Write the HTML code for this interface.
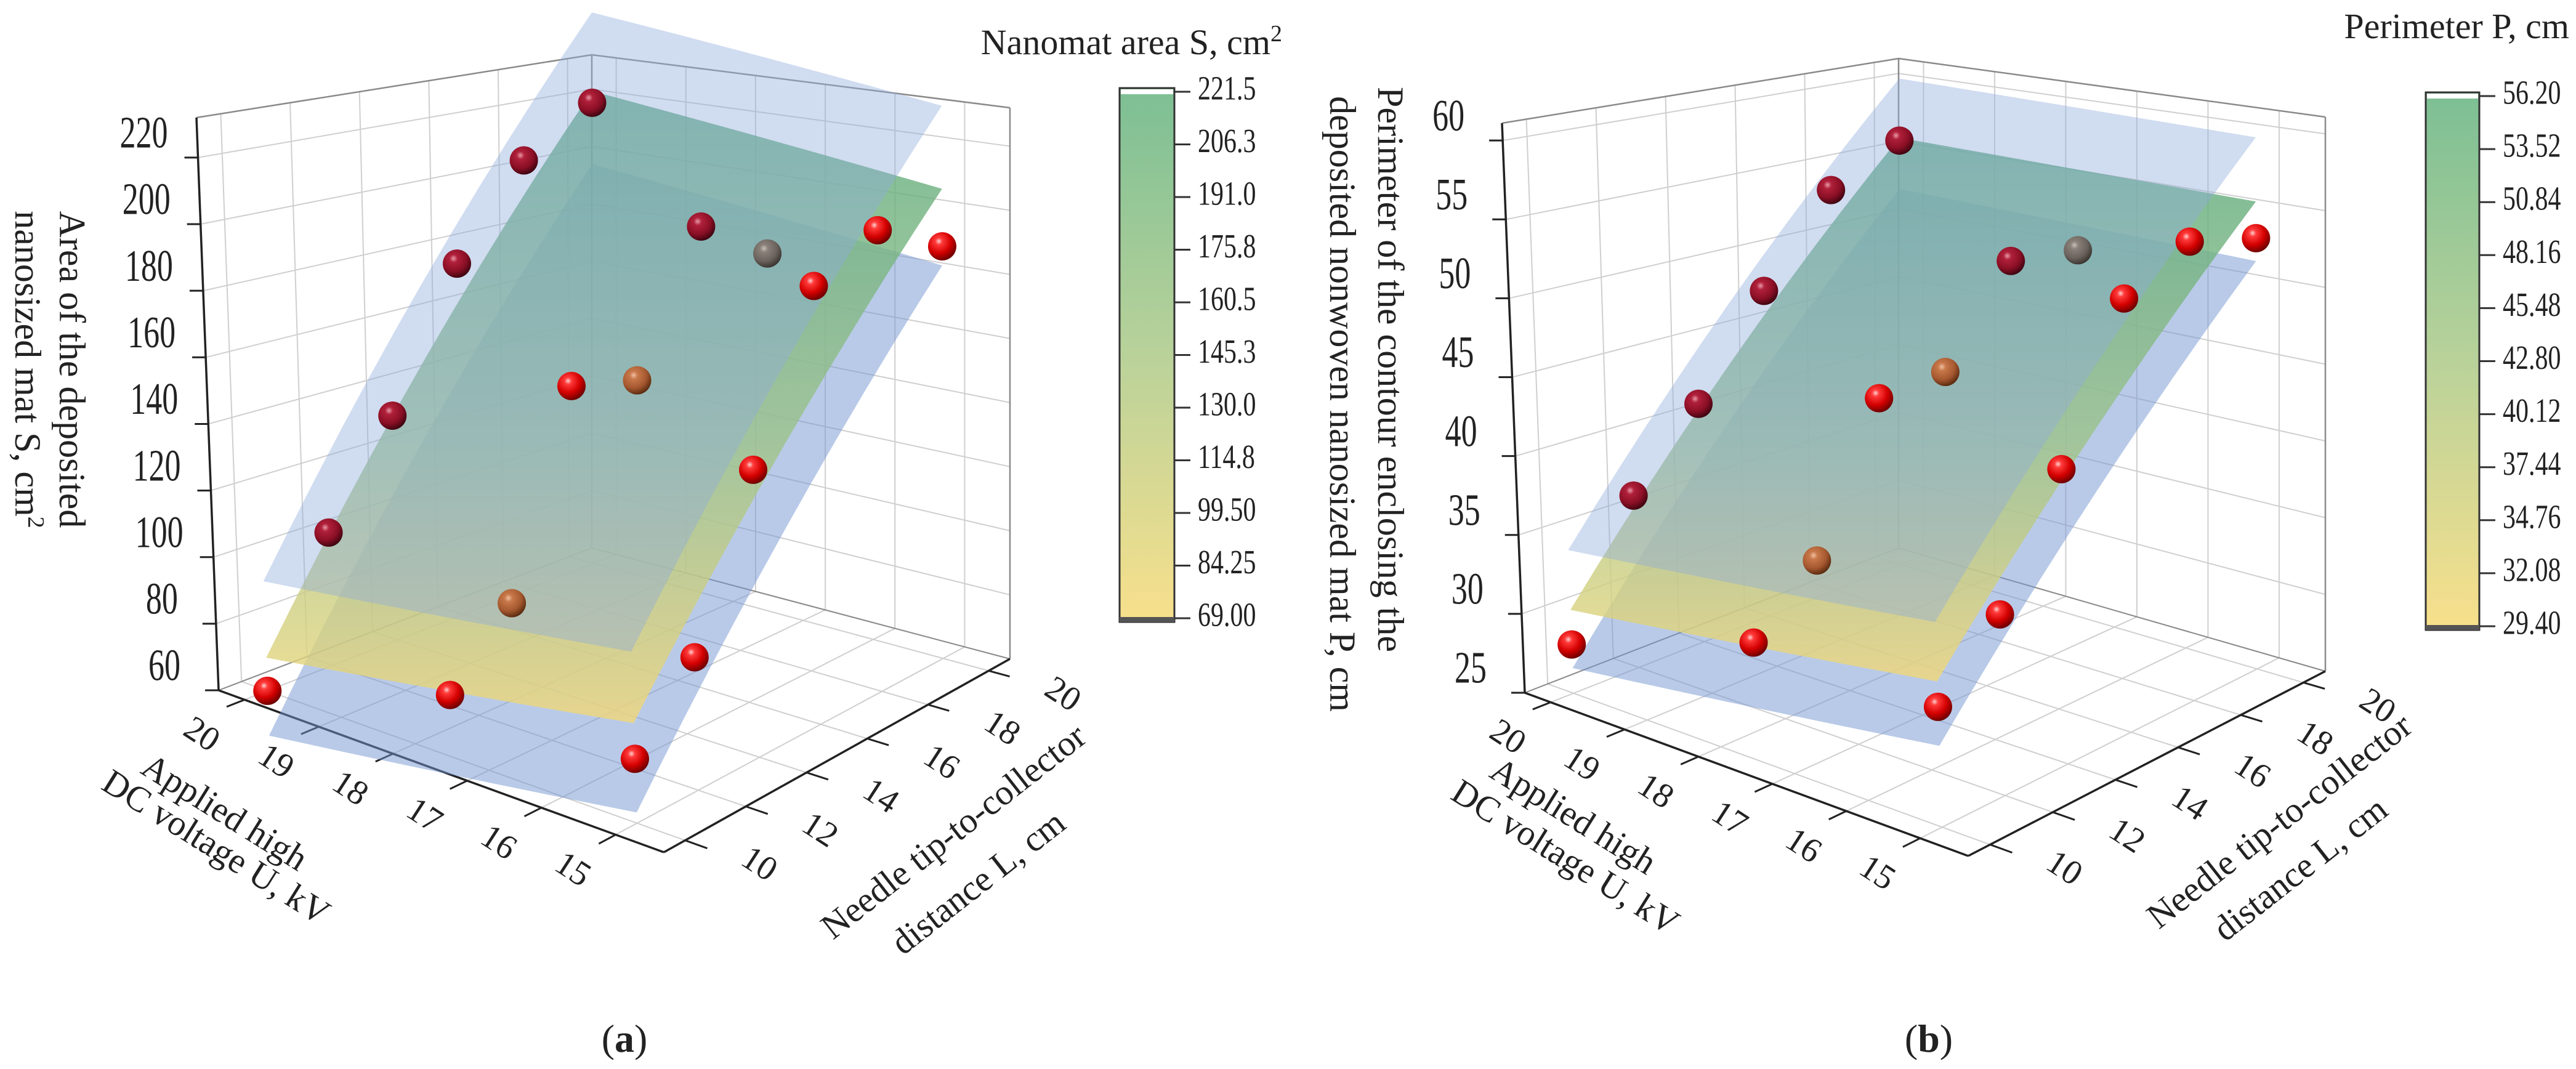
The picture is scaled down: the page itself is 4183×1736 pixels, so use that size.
<!DOCTYPE html>
<html><head><meta charset="utf-8"><style>
html,body{margin:0;padding:0;background:#fff;}
svg{display:block;font-family:"Liberation Serif",serif;}
</style></head><body>
<svg id="fig" xmlns="http://www.w3.org/2000/svg" width="4183" height="1736" viewBox="0 0 4183 1736">
<defs>
<radialGradient id="sph0" cx="0.38" cy="0.32" r="0.7">
<stop offset="0" stop-color="#ffd0d0"/><stop offset="0.18" stop-color="#ff3a3a"/><stop offset="0.6" stop-color="#d40000"/><stop offset="1" stop-color="#6a0000"/>
</radialGradient>
<radialGradient id="sph1" cx="0.38" cy="0.32" r="0.7">
<stop offset="0" stop-color="#e89aa8"/><stop offset="0.2" stop-color="#b0203a"/><stop offset="0.65" stop-color="#8a0f25"/><stop offset="1" stop-color="#3e0410"/>
</radialGradient>
<radialGradient id="sph2" cx="0.38" cy="0.32" r="0.7">
<stop offset="0" stop-color="#f0c0a0"/><stop offset="0.2" stop-color="#c8784a"/><stop offset="0.65" stop-color="#a5582f"/><stop offset="1" stop-color="#5a2a10"/>
</radialGradient>
<radialGradient id="sph3" cx="0.38" cy="0.32" r="0.7">
<stop offset="0" stop-color="#c8c0b8"/><stop offset="0.2" stop-color="#8a807a"/><stop offset="0.65" stop-color="#6a625c"/><stop offset="1" stop-color="#3a3430"/>
</radialGradient>
<linearGradient id="cbar" x1="0" y1="0" x2="0" y2="1">
<stop offset="0" stop-color="#7cbf94"/><stop offset="0.5" stop-color="#b9d29a"/><stop offset="1" stop-color="#f8e08c"/>
</linearGradient>
<linearGradient id="gA" gradientUnits="userSpaceOnUse" x1="0" y1="150" x2="0" y2="1180">
<stop offset="0" stop-color="#58a878"/><stop offset="0.55" stop-color="#9cc38a"/><stop offset="1" stop-color="#f3d878"/>
</linearGradient>
<linearGradient id="gB" gradientUnits="userSpaceOnUse" x1="0" y1="228" x2="0" y2="1110">
<stop offset="0" stop-color="#58a878"/><stop offset="0.55" stop-color="#9cc38a"/><stop offset="1" stop-color="#f3d878"/>
</linearGradient>
</defs>
<g id="layer"></g>
</svg>
<script>
// ---- data ----
const uVals=[20,20,20,20,20,20,17.5,17.5,17.5,17.5,17.5,17.5,15,15,15,15,15,15];
const lVals=[10,12,14,16,18,20,10,12,14,16,18,20,10,12,14,16,18,20];
const areaS=[60,101,131,174,203,218,78,97,155,150,192,177,78,98,144,191,201,189];
const perimP=[28.1,36.2,40.9,47.3,53.2,55.7,32.2,35.7,44.5,44.8,50.8,50.2,32.1,35.9,43.1,52.2,54.4,53.2];
// sphere shading class (0 front, 1 behind surface, 2 brown, 3 grey)
const shadeClass=[0,1,1,1,1,1,0,2,0,2,1,3,0,0,0,0,0,0];
// surface corner values at (U,L) = (20,10),(20,20),(15,20),(15,10)
const fitA=[70,222,207,88], upA=[93,249,233,108], loA=[46.5,197,183,63];
const fitB=[30.3,55.9,55.6,33.6], upB=[34.1,60.2,59.8,37.1], loB=[26.6,52.2,51.7,29.8];
const uTicks=[20,19,18,17,16,15];
const lTicks=[10,12,14,16,18,20];
const zTicksA=[60,80,100,120,140,160,180,200,220];
const zTicksB=[25,30,35,40,45,50,55,60];
const cbLabelsA=["221.5","206.3","191.0","175.8","160.5","145.3","130.0","114.8","99.50","84.25","69.00"];
const cbLabelsB=["56.20","53.52","50.84","48.16","45.48","42.80","40.12","37.44","34.76","32.08","29.40"];

const NS="http://www.w3.org/2000/svg";
const layer=document.getElementById('layer');
function mk(tag,attrs,parent){const e=document.createElementNS(NS,tag);for(const k in attrs)e.setAttribute(k,attrs[k]);(parent||layer).appendChild(e);return e;}

const PA={A:[355,1121],F:[1078,1384],R:[1640,1070],B:[961,890],h:[930,1015,895,801],u0:20.35,u1:14.35,l0:9.3,l1:20.7,zmin:60,zmax:232,tilt:-36};
const PB={A:[2476,1125],F:[3196,1390],R:[3776,1090],B:[3083,890],h:[925,1010,900,795],u0:20.35,u1:14.35,l0:9.3,l1:20.7,zmin:25,zmax:61.1,tilt:-37};

function proj(P,u,l,z){
  const s=(P.u0-u)/(P.u0-P.u1), t=(l-P.l0)/(P.l1-P.l0);
  const wA=(1-s)*(1-t), wF=s*(1-t), wR=s*t, wB=(1-s)*t;
  const bx=wA*P.A[0]+wF*P.F[0]+wR*P.R[0]+wB*P.B[0];
  const by=wA*P.A[1]+wF*P.F[1]+wR*P.R[1]+wB*P.B[1];
  const h=wA*P.h[0]+wF*P.h[1]+wR*P.h[2]+wB*P.h[3];
  const fz=(z-P.zmin)/(P.zmax-P.zmin);
  return [bx+P.tilt*(1-t)*fz, by-h*fz];
}
function line(P,a,b,stroke,w,g){const p=proj(P,...a),q=proj(P,...b);return mk('line',{x1:p[0],y1:p[1],x2:q[0],y2:q[1],stroke:stroke,'stroke-width':w},g);}
function txt(x,y,s,size,g,extra){const e=mk('text',Object.assign({x:x,y:y,'font-size':size,fill:'#222'},extra||{}),g);e.textContent=s;return e;}

function drawPanel(P,key,zTicks,vals,fit,up,lo,grad){
  const g=mk('g',{});
  
  
  const grid=mk('g',{},g);
  
  
  const gc='#cfcfcf', bc='#8a8a8a';
  uTicks.forEach(u=>line(P,[u,P.l0,P.zmin],[u,P.l1,P.zmin],gc,2,grid));
  lTicks.forEach(l=>line(P,[P.u0,l,P.zmin],[P.u1,l,P.zmin],gc,2,grid));
  lTicks.forEach(l=>line(P,[P.u0,l,P.zmin],[P.u0,l,P.zmax],gc,2,grid));
  zTicks.forEach(z=>line(P,[P.u0,P.l0,z],[P.u0,P.l1,z],gc,2,grid));
  uTicks.forEach(u=>line(P,[u,P.l1,P.zmin],[u,P.l1,P.zmax],gc,2,grid));
  zTicks.forEach(z=>line(P,[P.u0,P.l1,z],[P.u1,P.l1,z],gc,2,grid));
  line(P,[P.u0,P.l0,P.zmax],[P.u0,P.l1,P.zmax],bc,2.5,grid);
  line(P,[P.u0,P.l1,P.zmax],[P.u1,P.l1,P.zmax],bc,2.5,grid);
  line(P,[P.u0,P.l1,P.zmin],[P.u0,P.l1,P.zmax],bc,2.5,grid);
  line(P,[P.u1,P.l1,P.zmin],[P.u1,P.l1,P.zmax],bc,2.5,grid);
  line(P,[P.u0,P.l0,P.zmin],[P.u0,P.l1,P.zmin],bc,2,grid);
  line(P,[P.u0,P.l1,P.zmin],[P.u1,P.l1,P.zmin],bc,2,grid);
  const ax=mk('g',{},g);
  
  
  line(P,[P.u0,P.l0,P.zmin],[P.u0,P.l0,P.zmax],'#222',3.5,ax);
  line(P,[P.u0,P.l0,P.zmin],[P.u1,P.l0,P.zmin],'#222',3.5,ax);
  line(P,[P.u1,P.l0,P.zmin],[P.u1,P.l1,P.zmin],'#222',3.5,ax);
  zTicks.forEach(z=>{const p=proj(P,P.u0,P.l0,z);
    mk('line',{x1:p[0]-22,y1:p[1],x2:p[0],y2:p[1],stroke:'#222','stroke-width':3},ax);
    const lx=p[0]-88, ly=p[1]-33;
    const t=txt(0,0,String(z),52,ax,{'text-anchor':'middle','dominant-baseline':'middle',transform:`translate(${lx} ${ly}) scale(1 1.4)`});
    
    });
  uTicks.forEach(u=>{const p=proj(P,u,P.l0,P.zmin),q=proj(P,u,P.l0-0.55,P.zmin);
    mk('line',{x1:p[0],y1:p[1],x2:q[0],y2:q[1],stroke:'#222','stroke-width':3},ax);
    const t=txt(p[0]-72,p[1]+60,String(u),56,ax,{'text-anchor':'middle','dominant-baseline':'middle',transform:`rotate(33 ${p[0]-72} ${p[1]+60})`});
    
    });
  lTicks.forEach(l=>{const p=proj(P,P.u1,l,P.zmin),q=proj(P,P.u1-0.3,l,P.zmin);
    mk('line',{x1:p[0],y1:p[1],x2:q[0],y2:q[1],stroke:'#222','stroke-width':3},ax);
    const t=txt(p[0]+118,p[1]+42,String(l),56,ax,{'text-anchor':'middle','dominant-baseline':'middle',transform:`rotate(33 ${p[0]+118} ${p[1]+42})`});
    
    });
  const surf=(cv,fill,op,name)=>{
    const zf=(u,l)=>{const s=(20-u)/5,t=(l-10)/10;return cv[0]*(1-s)*(1-t)+cv[1]*(1-s)*t+cv[2]*s*t+cv[3]*s*(1-t);};
    const pts=[];const N=12;
    for(let i=0;i<=N;i++){const l=10+10*i/N;pts.push(proj(P,20,l,zf(20,l)));}
    for(let i=0;i<=N;i++){const u=20-5*i/N;pts.push(proj(P,u,20,zf(u,20)));}
    for(let i=0;i<=N;i++){const l=20-10*i/N;pts.push(proj(P,15,l,zf(15,l)));}
    for(let i=0;i<=N;i++){const u=15+5*i/N;pts.push(proj(P,u,10,zf(u,10)));}
    const e=mk('polygon',{points:pts.map(p=>p.join(',')).join(' '),fill:fill,'fill-opacity':op},g);
    
    
  };
  surf(lo,'#7496d2',0.5,'lower-confidence-surface-'+key);
  surf(fit,grad,0.8,'fitted-surface-'+key);
  surf(up,'#8fabdb',0.42,'upper-confidence-surface-'+key);
  const pts=mk('g',{},g);
  
  
  vals.forEach((v,i)=>{const p=proj(P,uVals[i],lVals[i],v);
    const c=mk('circle',{cx:p[0],cy:p[1],r:23,fill:'url(#sph'+shadeClass[i]+')'},pts);
    
    });
}
drawPanel(PA,'a',zTicksA,areaS,fitA,upA,loA,'url(#gA)');
drawPanel(PB,'b',zTicksB,perimP,fitB,upB,loB,'url(#gB)');

function colorbar(x0,x1,y0,y1,labels,key){
  const g=mk('g',{});
  
  
  mk('rect',{x:x0,y:y0,width:x1-x0,height:y1-y0,fill:'url(#cbar)',stroke:'#333','stroke-width':3},g);
  mk('rect',{x:x0+2,y:y0+2,width:x1-x0-4,height:8,fill:'#fff'},g);
  mk('rect',{x:x0,y:y1-8,width:x1-x0,height:8,fill:'#555'},g);
  labels.forEach((s,i)=>{const y=y0+6+(y1-y0-12)*i/(labels.length-1);
    mk('line',{x1:x1,y1:y,x2:x1+26,y2:y,stroke:'#333','stroke-width':3},g);
    const t=txt(0,0,s,42,g,{'dominant-baseline':'middle',transform:`translate(${x1+38} ${y}) scale(1 1.3)`});
    
    });
}
colorbar(1818,1907,143,1010,cbLabelsA,'a');
colorbar(3939,4026,150,1023,cbLabelsB,'b');
</script>
<script>
(function(){
const NS="http://www.w3.org/2000/svg";const svg=document.getElementById('fig');
function T(x,y,size,html,name,tr,anchor){const t=document.createElementNS(NS,'text');
t.setAttribute('x',x);t.setAttribute('y',y);t.setAttribute('font-size',size);t.setAttribute('fill','#222');
t.setAttribute('text-anchor',anchor||'middle');if(tr)t.setAttribute('transform',tr);


t.innerHTML=html;svg.appendChild(t);}
const sup='<tspan baseline-shift="super" font-size="38">2</tspan>';
T(2082,88,58,'Nanomat area S, cm'+sup,'colorbar-title-a',null,'end');
T(4172,62,58,'Perimeter P, cm','colorbar-title-b',null,'end');
T(0,0,60,'Area of the deposited','z-axis-title-a-line1','translate(97,600) rotate(90)');
T(0,0,60,'nanosized mat S, cm'+sup,'z-axis-title-a-line2','translate(25,600) rotate(90)');
T(0,0,60,'Perimeter of the contour enclosing the','z-axis-title-b-line1','translate(2238,600) rotate(90)');
T(0,0,60,'deposited nonwoven nanosized mat P, cm','z-axis-title-b-line2','translate(2160,656) rotate(90)');
T(0,0,58,'Applied high','u-axis-title-a-line1','translate(355,1335) rotate(32)');
T(0,0,58,'DC voltage U, kV','u-axis-title-a-line2','translate(341,1392) rotate(32)');
T(0,0,58,'Needle tip-to-collector','l-axis-title-a-line1','translate(1560,1365) rotate(-38)');
T(0,0,58,'distance L, cm','l-axis-title-a-line2','translate(1600,1448) rotate(-38)');
T(0,0,58,'Applied high','u-axis-title-b-line1','translate(2545,1341) rotate(32)');
T(0,0,58,'DC voltage U, kV','u-axis-title-b-line2','translate(2532,1408) rotate(32)');
T(0,0,58,'Needle tip-to-collector','l-axis-title-b-line1','translate(3713,1348) rotate(-38)');
T(0,0,58,'distance L, cm','l-axis-title-b-line2','translate(3747,1426) rotate(-38)');
T(1014,1708,64,'(<tspan font-weight="bold">a</tspan>)','panel-label-a');
T(3132,1708,64,'(<tspan font-weight="bold">b</tspan>)','panel-label-b');
})();
</script>
</body></html>
